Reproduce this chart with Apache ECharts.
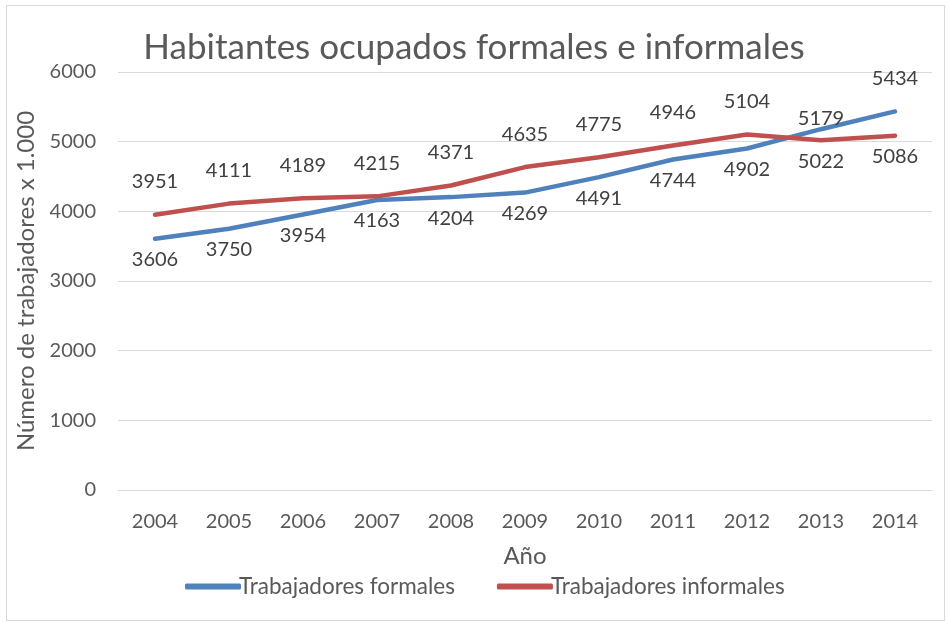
<!DOCTYPE html>
<html>
<head>
<meta charset="utf-8">
<script src="https://cdn.jsdelivr.net/npm/echarts@6/dist/echarts.min.js"></script>
<style>
  html, body { margin: 0; padding: 0; background: #fff; }
  #frame { position: absolute; left: 6px; top: 5px; width: 937px; height: 614px; border: 1px solid #d9d9d9; }
  #chart { position: absolute; left: 0; top: 0; width: 948px; height: 622px; }
</style>
</head>
<body>
<div id="frame"></div>
<div id="chart"></div>
<script>
const years = ['2004', '2005', '2006', '2007', '2008', '2009', '2010', '2011', '2012', '2013', '2014'];
const formales = [3606, 3750, 3954, 4163, 4204, 4269, 4491, 4744, 4902, 5179, 5434];
const informales = [3951, 4111, 4189, 4215, 4371, 4635, 4775, 4946, 5104, 5022, 5086];
// where each label sits (the crossing near 2013 flips them)
const formalesPos = ['bottom', 'bottom', 'bottom', 'bottom', 'bottom', 'bottom', 'bottom', 'bottom', 'bottom', 'onLine', 'top'];
const informalesPos = ['top', 'top', 'top', 'top', 'top', 'top', 'top', 'top', 'top', 'bottom', 'bottom'];

const fontName = 'Lato, "Open Sans", sans-serif';
const textColor = '#595959';

const labelStyles = {
    top: { position: 'top', distance: 22 },
    bottom: { position: 'bottom', distance: 10 },
    onLine: { position: 'top', distance: 0, offset: [12, 0] }
};

function withLabels(values, positions) {
    return values.map((v, i) => ({
        value: v,
        label: labelStyles[positions[i]]
    }));
}

const dataLabel = {
    show: true,
    fontFamily: fontName,
    fontSize: 20,
    color: '#404040',
    formatter: p => String(p.value)
};

const chart = echarts.init(document.getElementById('chart'));
chart.setOption({
    animation: false,
    textStyle: { fontFamily: fontName, color: textColor },
    title: {
        text: 'Habitantes ocupados formales e informales',
        left: 'center',
        top: 25,
        textStyle: { fontFamily: fontName, fontSize: 35, fontWeight: 'normal', color: textColor }
    },
    legend: {
        top: 570,
        left: 180,
        itemWidth: 56,
        itemHeight: 6,
        itemGap: 42,
        icon: 'roundRect',
        textStyle: { fontFamily: fontName, fontSize: 22.5, color: textColor, padding: [0, 0, 0, -7] },
        data: ['Trabajadores formales', 'Trabajadores informales']
    },
    grid: { left: 118, right: 16, top: 72, bottom: 132 },
    xAxis: {
        type: 'category',
        data: years,
        boundaryGap: true,
        name: 'Año',
        nameLocation: 'middle',
        nameGap: 54,
        nameTextStyle: { fontFamily: fontName, fontSize: 24, color: textColor },
        axisLine: { lineStyle: { color: '#d9d9d9' } },
        axisTick: { show: false },
        axisLabel: { fontFamily: fontName, fontSize: 20, color: textColor, margin: 22 }
    },
    yAxis: {
        type: 'value',
        min: 0,
        max: 6000,
        interval: 1000,
        name: 'Número de trabajadores x 1.000',
        nameLocation: 'middle',
        nameGap: 78,
        nameTextStyle: { fontFamily: fontName, fontSize: 24, color: textColor },
        axisLine: { show: false },
        axisTick: { show: false },
        splitLine: { lineStyle: { color: '#d9d9d9', width: 1 } },
        axisLabel: { fontFamily: fontName, fontSize: 20, color: textColor, margin: 22, formatter: v => String(v) }
    },
    series: [
        {
            name: 'Trabajadores formales',
            type: 'line',
            data: withLabels(formales, formalesPos),
            color: '#4f81bd',
            symbol: 'circle',
            symbolSize: 2,
            showSymbol: true,
            labelLayout: { hideOverlap: false },
            lineStyle: { width: 4.5, cap: 'round' },
            label: dataLabel
        },
        {
            name: 'Trabajadores informales',
            type: 'line',
            data: withLabels(informales, informalesPos),
            color: '#c0504d',
            symbol: 'circle',
            symbolSize: 2,
            showSymbol: true,
            labelLayout: { hideOverlap: false },
            lineStyle: { width: 4.5, cap: 'round' },
            label: dataLabel
        }
    ]
});
</script>
</body>
</html>
